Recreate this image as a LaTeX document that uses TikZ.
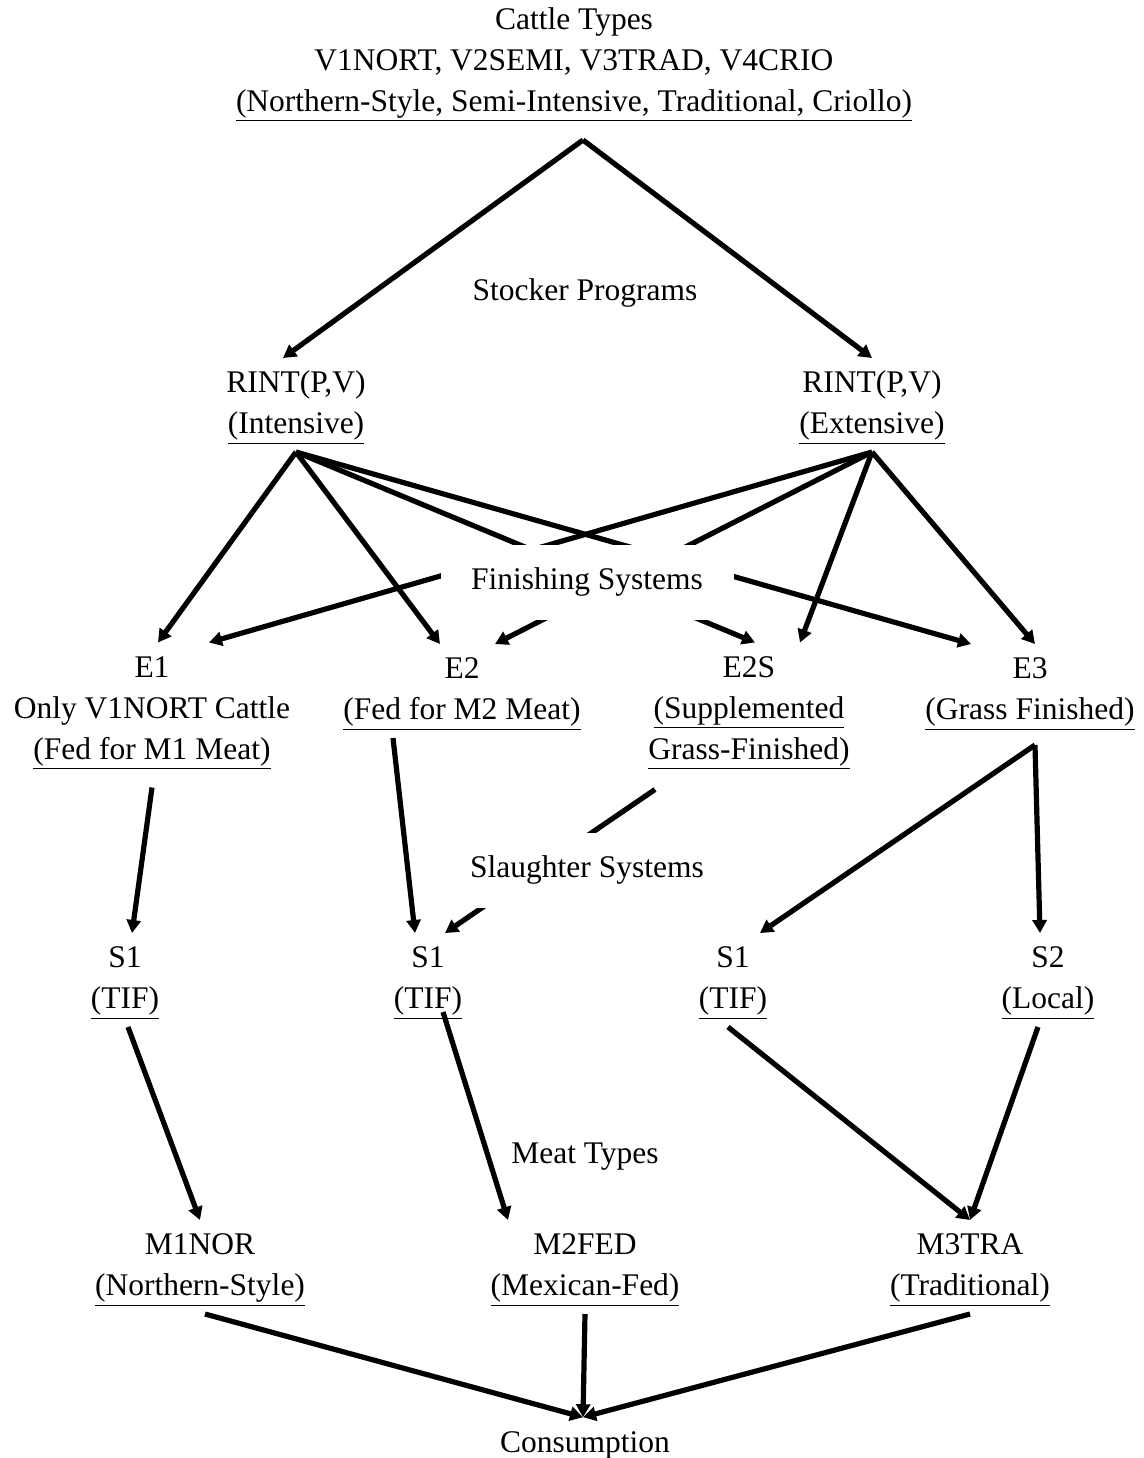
\documentclass[tikz,border=0pt]{standalone}
\usepackage{fontspec}
\setmainfont{Liberation Serif}
\usetikzlibrary{arrows.meta}
\newcommand{\sys}[2]{\begin{tabular}{c}#1\\\underline{#2}\end{tabular}}

\begin{document}
\begin{tikzpicture}[x=0.5pt,y=-0.5pt]
  \tikzset{every node/.style={font=\fontsize{15.75pt}{20.5pt}\selectfont,inner sep=0pt,outer sep=3pt},
           arr/.style={-{Triangle[length=6.5pt,width=7pt]},line width=2.6pt},
           stage/.style={fill=white,minimum width=146.5pt,minimum height=37.5pt}}
  \useasboundingbox (0,0) rectangle (1144,1458);

  \node(cattle) at (574,62) {\sys{Cattle Types\\V1NORT, V2SEMI, V3TRAD, V4CRIO}{(Northern-Style, Semi-Intensive, Traditional, Criollo)}};
  \node(RINTi) at (296,405) {\sys{RINT(P,V)}{(Intensive)}};
  \node(RINTe) at (872,405) {\sys{RINT(P,V)}{(Extensive)}};
  \node(E1) at (152,710) {\sys{E1\\Only V1NORT Cattle}{(Fed for M1 Meat)}};
  \node(E2) at (462,691) {\sys{E2}{(Fed for M2 Meat)}};
  \node(E2S) at (749,710) {\sys{E2S\\\underline{(Supplemented}}{Grass-Finished)}};
  \node(E3) at (1030,691) {\sys{E3}{(Grass Finished)}};
  \node(S1a) at (125,980) {\sys{S1}{(TIF)}};
  \node(S1b) at (428,980) {\sys{S1}{(TIF)}};
  \node(S1c) at (733,980) {\sys{S1}{(TIF)}};
  \node(S2) at (1048,980) {\sys{S2}{(Local)}};
  \node(M1NOR) at (200,1267) {\sys{M1NOR}{(Northern-Style)}};
  \node(M2FED) at (585,1267) {\sys{M2FED}{(Mexican-Fed)}};
  \node(M3TRA) at (970,1267) {\sys{M3TRA}{(Traditional)}};
  \node(cons) at (585,1445) {Consumption};

  \coordinate (apex) at ([xshift=4.5pt,yshift=-5.25pt]cattle.south);
  \coordinate (E3out) at ([xshift=2.5pt,yshift=-3.5pt]E3.south);
  \coordinate (consin) at ([xshift=-1pt,yshift=4pt]cons.north);

  \draw[arr] (apex) -- ([xshift=-6.5pt]RINTi.north);
  \draw[arr] (apex) -- (RINTe.north);

  \draw[arr] (RINTi.south) -- ([xshift=3pt]E1.north);
  \draw[arr] (RINTi.south) -- ([xshift=-11pt]E2.north);
  \draw[arr] (RINTi.south) -- ([xshift=3pt]E2S.north);
  \draw[arr] (RINTi.south) -- ([xshift=-29.5pt]E3.north);
  \draw[arr] (RINTe.south) -- ([xshift=28.5pt]E1.north);
  \draw[arr] (RINTe.south) -- ([xshift=16.5pt]E2.north);
  \draw[arr] (RINTe.south) -- ([xshift=25.5pt]E2S.north);
  \draw[arr] (RINTe.south) -- ([xshift=2.5pt]E3.north);

  \draw[arr] ([yshift=-5pt]E1.south) -- ([xshift=3.5pt]S1a.north);
  \draw[arr] ([xshift=-34.5pt]E2.south) -- ([xshift=-6.5pt]S1b.north);
  \draw[arr] ([xshift=-47pt,yshift=-6pt]E2S.south) -- ([xshift=8.5pt]S1b.north);
  \draw[arr] (E3out) -- ([xshift=13.5pt]S1c.north);
  \draw[arr] (E3out) -- ([xshift=-4pt]S2.north);

  \draw[arr] ([xshift=1.5pt]S1a.south) -- (M1NOR.north);
  \draw[arr] ([xshift=7.5pt,yshift=7.5pt]S1b.south) -- ([xshift=-38.5pt]M2FED.north);
  \draw[arr] ([xshift=-2.5pt]S1c.south) -- (M3TRA.north);
  \draw[arr] ([xshift=-5pt]S2.south) -- (M3TRA.north);

  \draw[arr] ([xshift=2.5pt]M1NOR.south) -- (consin);
  \draw[arr] (M2FED.south) -- (consin);
  \draw[arr] (M3TRA.south) -- (consin);

  \node(stocker) at (585,293) {Stocker Programs};
  \node[stage](finishing) at (587,582) {Finishing Systems};
  \node[stage](slaughter) at (587,870) {Slaughter Systems};
  \node(meat) at (585,1157) {Meat Types};
\end{tikzpicture}
\end{document}
